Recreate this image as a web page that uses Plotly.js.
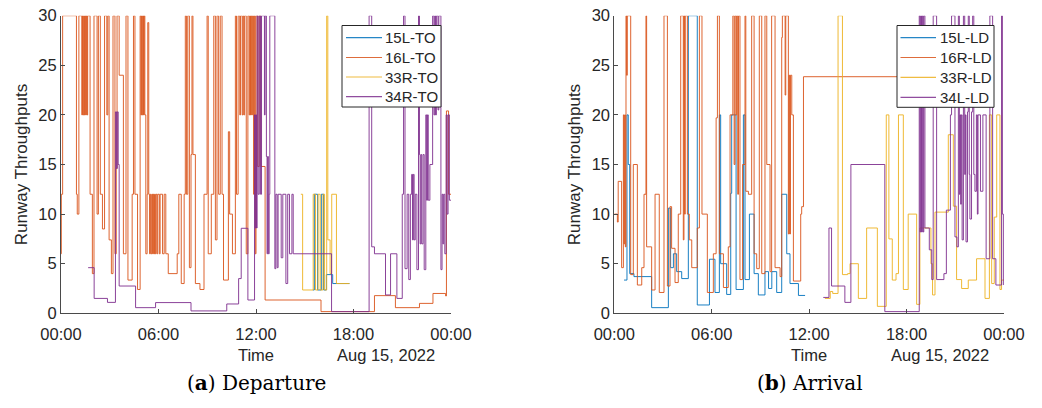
<!DOCTYPE html>
<html>
<head>
<meta charset="utf-8">
<script src="https://cdn.plot.ly/plotly-3.0.1.min.js"></script>
<style>
  html, body { margin: 0; padding: 0; background: #ffffff; }
  #chart { width: 1042px; height: 408px; }
</style>
</head>
<body>
<div id="chart"></div>
<script>
// Runway throughputs on Aug 15, 2022 (hours since midnight, throughput value)
const runwayColors = ['#0072BD', '#D95319', '#EDB120', '#7E2F8E'];
const depNames = ['15L-TO', '16L-TO', '33R-TO', '34R-TO'];
const arrNames = ['15L-LD', '16R-LD', '33R-LD', '34L-LD'];
const tickHours = [0, 6, 12, 18, 24];
const tickLabels = ['00:00', '06:00', '12:00', '18:00', '00:00'];

// ---- Departures ----
const dep15Hours = [15.50, 15.59, 15.79, 16.02, 16.16, 16.33, 16.72, 17.75];
const dep15Values = [2.35, 12, 2.35, 12, 2.35, 3.9, 3.0, 3.0];

const dep16Hours = [0.00, 0.02, 0.10, 0.95, 1.00, 1.10, 1.28, 1.32, 1.36, 1.40, 1.44, 1.48, 1.52, 1.56, 1.60, 1.64,
  1.79, 1.93, 2.03, 2.22, 2.30, 2.42, 2.55, 2.68, 2.82, 2.88, 2.96, 3.10, 3.20, 3.32, 3.40, 3.45, 3.58, 3.84,
  4.00, 4.12, 4.38, 4.46, 4.55, 4.71, 4.87, 4.92, 4.96, 5.00, 5.04, 5.08, 5.12, 5.16, 5.22, 5.30, 5.34, 5.40,
  5.45, 5.50, 5.55, 5.60, 5.64, 5.68, 5.72, 5.76, 5.80, 5.84, 5.90, 5.95, 6.05, 6.10, 6.25, 6.35, 6.45, 6.60,
  7.15, 7.25, 7.40, 7.58, 7.65, 7.72, 7.80, 7.90, 8.00, 8.06, 8.12, 8.27, 8.55, 8.80, 8.99, 9.06, 9.25, 9.40,
  9.50, 9.60, 9.70, 9.80, 9.91, 10.00, 10.30, 10.38, 10.55, 10.73, 10.80, 10.90, 11.00, 11.05, 11.15, 11.20,
  11.25, 11.30, 11.40, 11.50, 11.58, 11.62, 11.66, 11.70, 11.74, 11.78, 11.85, 11.90, 11.95, 12.00, 12.10,
  12.20, 12.30, 12.56, 16.00, 19.29, 20.58, 22.06, 22.89, 23.67, 23.72, 23.85, 24.00];
const dep16Values = [6, 12, 30, 12, 10, 30, 20, 30, 20, 30, 20, 30, 20, 30, 20, 30,
  12, 4, 30, 10, 30, 12, 8.5, 30, 20, 30, 7.4, 4, 30, 6, 14.6, 30, 24, 6,
  30, 3.35, 12, 30, 12, 2.4, 30, 20, 30, 20, 30, 20, 30, 20, 6, 12, 29.3, 12,
  6, 12, 6, 12, 6, 12, 6, 12, 6, 12, 6, 12, 6, 12, 6, 12, 6, 4,
  6, 12, 3, 12, 30, 12, 30, 4.6, 16, 30, 16, 3, 2.4, 12, 30, 6, 12, 30,
  7.4, 30, 12, 30, 12, 3.35, 18.3, 10, 6, 30, 12, 30, 20, 30, 20, 30,
  20, 30, 6, 30, 20, 30, 20, 30, 20, 30, 12, 30, 6, 30, 14.8,
  30, 14.8, 1.34, 0.17, 1.78, 0.57, 1.0, 2.0, 1.75, 20.4, 12, 12];

const dep33Hours = [14.76, 14.87, 15.52, 15.66, 15.82, 15.95, 16.12, 16.22, 16.35, 16.42, 16.56, 16.66, 16.95, 17.75];
const dep33Values = [12, 2.35, 12, 2.35, 12, 2.35, 12, 2.35, 30, 7.4, 4.0, 12, 3.0, 3.0];

const dep34Hours = [1.67, 2.04, 2.86, 3.35, 3.42, 3.46, 3.52, 3.58, 4.59, 5.82, 8.00, 10.20, 10.93, 11.09, 11.50,
  11.91, 11.95, 11.99, 12.03, 12.07, 12.13, 12.20, 12.28, 12.34, 12.52, 12.56, 12.64, 12.68, 12.72, 12.76,
  12.81, 12.85, 13.16, 13.22, 13.30, 13.36, 13.55, 13.65, 13.84, 13.95, 14.06, 14.21, 14.29, 16.65, 18.96,
  19.12, 19.29, 19.97, 20.28, 20.67, 21.00, 21.08, 21.17, 21.30, 21.40, 21.50, 21.58, 21.63, 21.68, 21.73,
  21.80, 21.90, 22.00, 22.06, 22.10, 22.15, 22.20, 22.28, 22.35, 22.45, 22.50, 22.55, 22.60, 22.70, 22.87,
  22.95, 23.00, 23.05, 23.10, 23.20, 23.25, 23.38, 23.45, 23.50, 23.55, 23.62, 23.70, 23.76, 23.82, 23.90, 24.00];
const dep34Values = [4.6, 1.5, 1.1, 20.3, 14.6, 20.3, 15, 2.75, 0.57, 1.08, 0.24, 0.94, 3.5, 8.57, 1.34,
  20, 8.6, 20, 8.6, 30, 12, 30, 12, 30, 20, 30, 15.8, 6, 15.8, 6,
  12, 30, 4.5, 12, 4.6, 12, 5.6, 12, 3.0, 12, 6, 12, 6, 0.17, 30,
  6.7, 6, 1.85, 6, 1.5, 12, 30, 4.5, 12, 3.4, 12, 14, 7.4, 14, 7.4,
  12, 4.4, 30, 16, 7, 16, 7, 16, 4.4, 20, 11.4, 20, 11.4, 15, 30,
  20, 30, 20, 30, 20.5, 30, 4.4, 12, 7, 12, 6, 20, 10, 20, 11.4, 11.4];

// ---- Arrivals ----
const arr15Hours = [0.60, 0.78, 0.86, 0.95, 1.21, 2.30, 3.33, 3.47, 3.64, 3.84, 4.15, 4.56, 5.11, 5.86, 6.20,
  6.47, 6.55, 6.92, 7.17, 7.23, 7.50, 7.95, 8.05, 8.32, 8.61, 8.87, 9.28, 9.50, 9.70, 10.00, 10.31, 10.62,
  10.82, 11.34, 11.75];
const arr15Values = [3.35, 20, 15, 4.0, 3.7, 0.57, 10.6, 4.6, 6.0, 4.2, 3.5, 30, 0.84, 5.45, 2.1,
  20, 5.0, 1.9, 12.1, 20, 2.4, 20, 3.4, 10, 4.0, 1.85, 4.2, 2.5, 4.2, 2.1, 12, 6.0,
  3.0, 1.8, 1.8];

const arr16Hours = [0.00, 0.19, 0.24, 0.45, 0.56, 0.60, 0.64, 0.68, 0.72, 0.76, 0.80, 1.01, 1.17, 1.42, 1.69,
  1.83, 1.95, 1.99, 2.30, 2.51, 2.77, 3.06, 3.27, 3.43, 3.53, 3.74, 3.94, 4.09, 4.25, 4.29, 4.33, 4.37, 4.50,
  4.62, 4.77, 5.11, 5.24, 5.40, 5.73, 6.10, 6.27, 6.35, 6.47, 6.72, 7.02, 7.13, 7.30, 7.38, 7.43, 7.50, 7.54,
  7.60, 7.65, 7.74, 7.90, 8.05, 8.10, 8.26, 8.46, 8.61, 8.77, 8.93, 9.08, 9.28, 9.39, 9.59, 9.69, 9.90, 10.21,
  10.31, 10.35, 10.52, 10.56, 10.72, 10.76, 10.80, 10.85, 10.93, 11.03, 11.48, 11.54, 11.65, 19.50];
const arr16Values = [10, 9.2, 13.3, 4.6, 20, 7, 20, 6.7, 30, 24, 30, 3.9, 15, 2.85, 4.6,
  12, 30, 6.7, 2.35, 12, 2.1, 30, 2.75, 10.75, 6.55, 3.1, 10, 30, 7.4, 30, 10, 30, 10,
  7.4, 4.6, 8.6, 30, 10, 2.1, 6, 19.7, 30, 6, 2.6, 6.7, 20, 30, 15, 30, 20, 30,
  12, 30, 3.4, 15, 30, 12.3, 12, 30, 6, 4.5, 30, 4, 30, 15, 4.2, 30, 4.6, 3.7,
  27.8, 30, 22, 30, 8, 24, 8, 24, 20, 3.25, 10, 10.75, 23.85, 23.85];

const arr33Hours = [12.97, 13.30, 13.45, 13.78, 14.05, 14.37, 14.52, 15.03, 15.54, 16.20, 16.75, 16.91, 17.12,
  17.35, 17.50, 17.80, 18.10, 18.62, 18.82, 19.50, 19.60, 19.75, 20.57, 20.88, 21.08, 21.39, 21.80, 22.31,
  22.83, 23.10, 23.24, 23.40, 23.55, 23.75, 23.85, 24.00];
const arr33Values = [1.5, 2.2, 2.0, 30, 3.9, 4.0, 5.0, 1.5, 8.6, 0.7, 20, 7.5, 3.35,
  4.0, 20, 2.4, 10, 0.9, 8.6, 5.0, 1.85, 10.2, 18, 10.8, 3.4, 2.5, 3.35, 5.5,
  1.5, 20, 3.0, 9.7, 20, 2.4, 3.35, 3.35];

const arr34Hours = [12.87, 13.22, 13.38, 14.20, 14.57, 16.66, 18.78, 18.83, 18.87, 18.92, 18.97, 19.02, 19.06,
  19.13, 19.40, 19.55, 19.64, 19.85, 20.30, 20.45, 20.70, 20.77, 20.98, 21.10, 21.19, 21.25, 21.29, 21.33,
  21.37, 21.42, 21.50, 21.58, 21.62, 21.66, 21.75, 21.80, 21.86, 21.90, 22.00, 22.07, 22.14, 22.21, 22.30,
  22.36, 22.40, 22.55, 22.70, 22.90, 23.13, 23.30, 23.50, 23.85, 23.90, 23.96];
const arr34Values = [1.6, 8.6, 2.75, 1.1, 15, 0.17, 30, 8.2, 30, 8.2, 30, 8.2, 30,
  8.6, 6.4, 3.4, 30, 3.4, 4.0, 10.4, 20, 30, 7.7, 6.7, 30, 12, 20, 11,
  20, 7.4, 30, 14, 20, 7.2, 20.3, 30, 14, 9.5, 20.3, 30, 14, 12.3, 20,
  10, 20, 12.3, 20, 5.5, 30, 5.5, 2.85, 30, 10, 2.85];

// hours after midnight -> date string on the plotted day
function stamp(h) {
  const ms = Date.UTC(2022, 7, 15) + Math.round(h * 3600) * 1000;
  return new Date(ms).toISOString().slice(0, 19).replace('T', ' ');
}

const depSeries = [[dep15Hours, dep15Values], [dep16Hours, dep16Values], [dep33Hours, dep33Values], [dep34Hours, dep34Values]];
const arrSeries = [[arr15Hours, arr15Values], [arr16Hours, arr16Values], [arr33Hours, arr33Values], [arr34Hours, arr34Values]];

const traces = [];
depSeries.forEach(([hrs, vals], i) => {
  traces.push({
    type: 'scatter', mode: 'lines', name: depNames[i],
    x: hrs.map(stamp), y: vals, xaxis: 'x', yaxis: 'y',
    line: { shape: 'hv', color: runwayColors[i], width: 1 }, opacity: 0.9,
    hoverinfo: 'skip'
  });
});
arrSeries.forEach(([hrs, vals], i) => {
  traces.push({
    type: 'scatter', mode: 'lines', name: arrNames[i],
    x: hrs.map(stamp), y: vals, xaxis: 'x2', yaxis: 'y2',
    line: { shape: 'hv', color: runwayColors[i], width: 1 }, opacity: 0.9,
    hoverinfo: 'skip'
  });
});

const W = 1042, H = 408;
const axisColor = '#4a4a4a';
const textColor = '#262626';
const yDomain = [(H - 313.3) / H, (H - 15.7) / H];

function xAxis(domain, anchor) {
  return {
    type: 'date', domain: domain, anchor: anchor,
    range: [stamp(0), stamp(24)],
    tickmode: 'array', tickvals: tickHours.map(stamp), ticktext: tickLabels,
    ticks: 'inside', ticklen: 4, tickcolor: axisColor,
    showline: true, linecolor: axisColor, linewidth: 1,
    showgrid: false, zeroline: false,
    ticklabelstandoff: 6,
    tickfont: { size: 16.5, color: textColor },
    title: { text: 'Time', font: { size: 16.5, color: textColor }, standoff: 7 }
  };
}
function yAxis(anchor) {
  return {
    domain: yDomain, anchor: anchor, range: [0, 30],
    tickmode: 'array', tickvals: [0, 5, 10, 15, 20, 25, 30],
    ticks: 'inside', ticklen: 4, tickcolor: axisColor,
    showline: true, linecolor: axisColor, linewidth: 1,
    showgrid: false, zeroline: false,
    tickfont: { size: 16.5, color: textColor },
    title: { text: 'Runway Throughputs', font: { size: 17, color: textColor }, standoff: 6 }
  };
}

// Legend boxes: white panel with a short line sample and a label per runway
const shapes = [];
const legendText = [];
function addLegend(names, left, right, top, bottom, lineX0, lineX1, textX, rowYs) {
  shapes.push({ type: 'rect', xref: 'paper', yref: 'paper', layer: 'above',
    x0: left / W, x1: right / W, y0: 1 - bottom / H, y1: 1 - top / H,
    fillcolor: '#ffffff', line: { color: '#262626', width: 1 } });
  names.forEach((name, i) => {
    shapes.push({ type: 'line', xref: 'paper', yref: 'paper', layer: 'above',
      x0: lineX0 / W, x1: lineX1 / W, y0: 1 - rowYs[i] / H, y1: 1 - rowYs[i] / H,
      line: { color: runwayColors[i], width: 1.2 }, opacity: 0.85 });
    legendText.push({ text: name, xref: 'paper', yref: 'paper', x: textX / W, y: 1 - rowYs[i] / H,
      xanchor: 'left', yanchor: 'middle', showarrow: false,
      font: { size: 15, color: textColor } });
  });
}
addLegend(depNames, 342, 441, 25.5, 107, 346, 382, 383, [37.7, 57.5, 77, 96.7]);
addLegend(arrNames, 897, 994, 25.5, 107.3, 900.5, 936, 937.5, [37.7, 57.5, 77.3, 97.3]);

const layout = {
  width: W, height: H,
  margin: { l: 0, r: 0, t: 0, b: 0 },
  paper_bgcolor: '#ffffff', plot_bgcolor: '#ffffff',
  font: { family: 'Liberation Sans, Arial, sans-serif', color: textColor },
  showlegend: false,
  xaxis: xAxis([61 / W, 451 / W], 'y'),
  yaxis: yAxis('x'),
  xaxis2: xAxis([614.3 / W, 1004 / W], 'y2'),
  yaxis2: yAxis('x2'),
  shapes: shapes,
  annotations: legendText.concat([
    { text: 'Aug 15, 2022', xref: 'paper', yref: 'paper', x: 386 / W, y: 1 - 355 / H,
      xanchor: 'center', yanchor: 'middle', showarrow: false, font: { size: 16.5, color: textColor } },
    { text: 'Aug 15, 2022', xref: 'paper', yref: 'paper', x: 940 / W, y: 1 - 355 / H,
      xanchor: 'center', yanchor: 'middle', showarrow: false, font: { size: 16.5, color: textColor } },
    { text: '(<b>a</b>) Departure', xref: 'paper', yref: 'paper', x: 256 / W, y: 1 - 383 / H,
      xanchor: 'center', yanchor: 'middle', showarrow: false,
      font: { family: 'DejaVu Serif, Liberation Serif, serif', size: 20, color: '#000000' } },
    { text: '(<b>b</b>) Arrival', xref: 'paper', yref: 'paper', x: 810 / W, y: 1 - 383 / H,
      xanchor: 'center', yanchor: 'middle', showarrow: false,
      font: { family: 'DejaVu Serif, Liberation Serif, serif', size: 20, color: '#000000' } }
  ])
};

Plotly.newPlot('chart', traces, layout, { staticPlot: true, displayModeBar: false });
</script>
</body>
</html>
